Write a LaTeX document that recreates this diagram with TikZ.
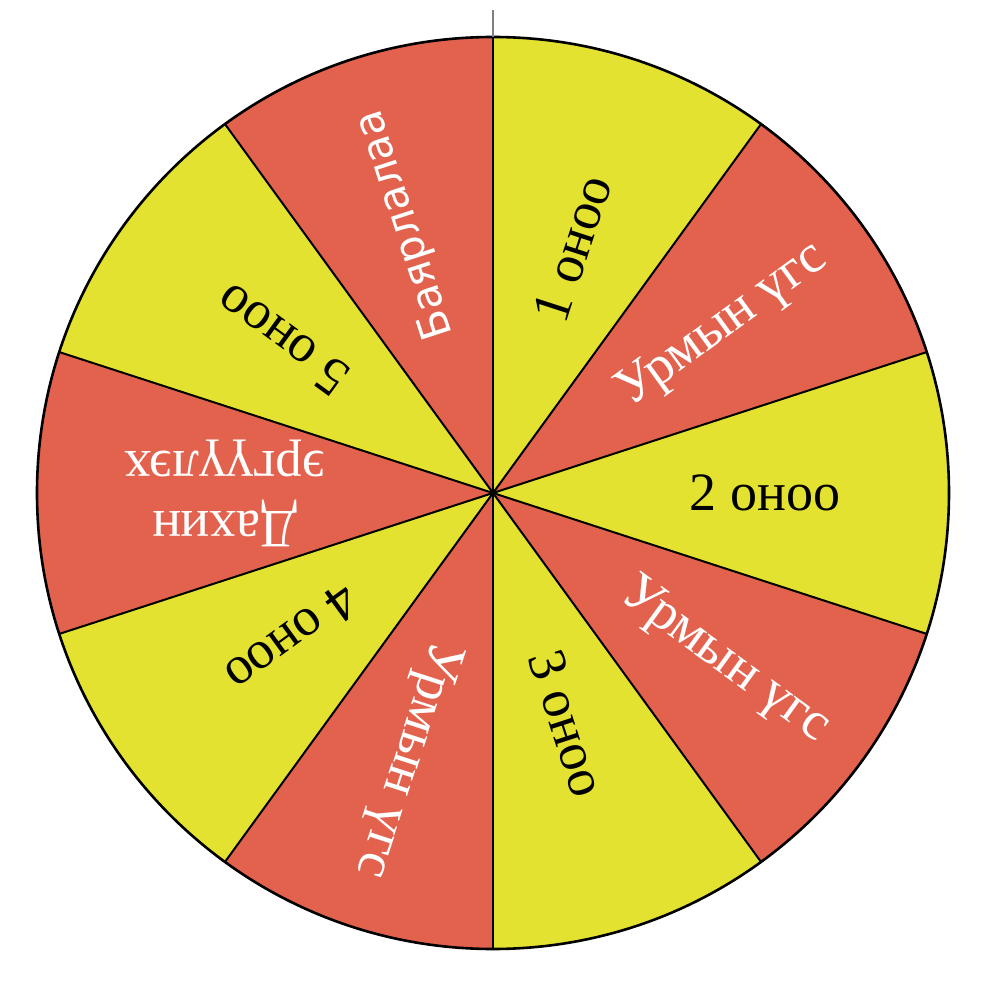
\documentclass[tikz,border=0pt]{standalone}
\usepackage{fontspec}
\setmainfont{Liberation Serif}
\newfontfamily\thanksfont{DejaVu Sans}
\begin{document}
\begin{tikzpicture}[x=1pt,y=1pt]
\definecolor{wyellow}{RGB}{228,226,48}
\definecolor{wred}{RGB}{226,98,78}
\tikzset{
  lbl/.style={font=\fontsize{54}{60}\selectfont, align=center, inner sep=0pt},
  ylbl/.style={lbl, text=black},
  rlbl/.style={lbl, text=white}
}
\useasboundingbox (-493,493) rectangle (493,-494);
\def\R{456}
\coordinate (c) at (0,0);
\foreach \i in {0,...,9} {
  \pgfmathsetmacro\a{90-36*\i}
  \pgfmathsetmacro\b{90-36*(\i+1)}
  \pgfmathtruncatemacro\odd{mod(\i,2)}
  \ifnum\odd=0
    \fill[wyellow] (c) -- (\a:\R) arc[start angle=\a, end angle=\b, radius=\R] -- cycle;
  \else
    \fill[wred] (c) -- (\a:\R) arc[start angle=\a, end angle=\b, radius=\R] -- cycle;
  \fi
}
\foreach \i in {0,...,9} {
  \pgfmathsetmacro\a{90-36*\i}
  \draw[line width=2pt] (c) -- (\a:\R);
}
\draw[line width=2.6pt] (c) circle[radius=\R];
\coordinate (pin) at (0,483);
\draw[gray, line width=1.2pt] (0,\R) -- (pin);
\node[ylbl, rotate=72] (t1) at (72:257) {1 оноо};
\node[rlbl, rotate=36] (t2) at (36:284) {Урмын үгс};
\node[ylbl, rotate=0] (t3) at (0:272) {2 оноо};
\node[rlbl, rotate=-36] (t4) at (-36:286) {Урмын үгс};
\node[ylbl, rotate=-72] (t5) at (-72:242) {3 оноо};
\node[rlbl, rotate=-108] (t6) at (-108:280) {Урмын үгс};
\node[ylbl, rotate=-144] (t7) at (-144:248) {4 оноо};
\node[rlbl, rotate=180] (t8) at (180:268) {Дахин\\эргүүлэх};
\node[ylbl, rotate=144] (t9) at (144:260) {5 оноо};
\node[rlbl, rotate=108, font=\thanksfont\fontsize{42}{48}\selectfont] (t10) at (108:282) {Баярлалаа};
\end{tikzpicture}
\end{document}
